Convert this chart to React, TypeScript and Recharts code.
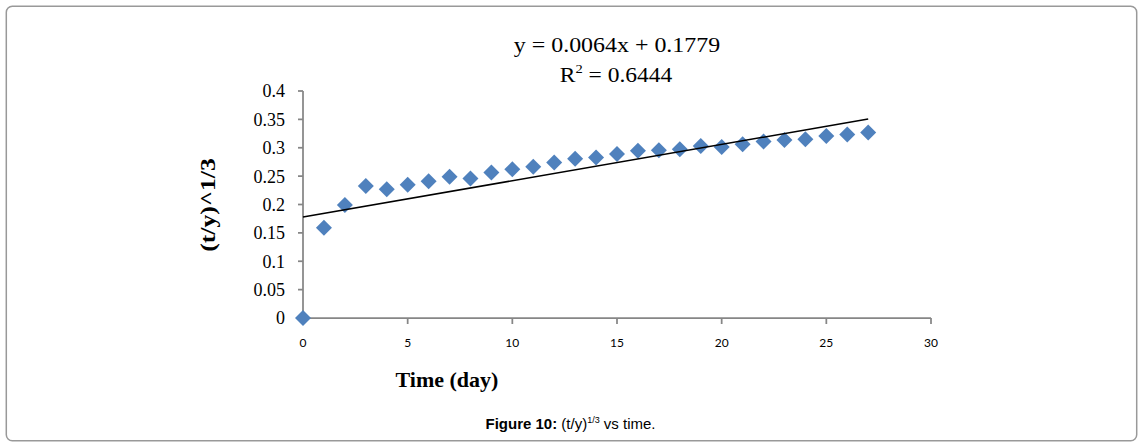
import React from 'react';
import { ScatterChart, Scatter, XAxis, YAxis } from 'recharts';

const days = [0, 1, 2, 3, 4, 5, 6, 7, 8, 9, 10, 11, 12, 13, 14, 15, 16, 17, 18, 19, 20, 21, 22, 23, 24, 25, 26, 27];
const values = [0, 0.159, 0.199, 0.2325, 0.227, 0.235, 0.241, 0.249, 0.246, 0.2565, 0.262, 0.2665, 0.274, 0.2805, 0.283, 0.289, 0.2945, 0.2955, 0.2975, 0.303, 0.3015, 0.306, 0.311, 0.3135, 0.315, 0.3205, 0.3235, 0.327];
const trendX = [0, 27];
const trendY = [0.1779, 0.3507];
const xTicks = [0, 5, 10, 15, 20, 25, 30];
const yTicks = [0, 0.05, 0.1, 0.15, 0.2, 0.25, 0.3, 0.35, 0.4];

const pointData = days.map((d, i) => ({ x: d, y: values[i] }));
const trendData = trendX.map((d, i) => ({ x: d, y: trendY[i] }));

const AXIS = '#868686';
const BLUE = '#4F81BD';

const Diamond = (props: any) => {
  const { cx, cy } = props;
  if (cx == null || cy == null) return <g />;
  const r = 8;
  return <path d={`M${cx},${cy - r} L${cx + r},${cy} L${cx},${cy + r} L${cx - r},${cy} Z`} fill={BLUE} />;
};

const NoShape = () => <g />;

const YTick = (props: any) => {
  const { x, y, payload } = props;
  return (
    <text x={x} y={y} dy="0.355em" textAnchor="end" fill="#000" fontFamily="Liberation Serif" fontSize={18}>
      {String(payload.value)}
    </text>
  );
};

const XTick = (props: any) => {
  const { x, y, payload } = props;
  return (
    <text x={x} y={y} dy="0.71em" textAnchor="middle" fill="#000" fontFamily="Lato" fontSize={12}>
      {String(payload.value)}
    </text>
  );
};

export default function App() {
  return (
    <div style={{ position: 'absolute', left: 0, top: 0, width: 1142, height: 448, background: '#fff' }}>
      <ScatterChart width={1142} height={448} margin={{ top: 91, right: 211, bottom: 100, left: 0 }}>
        <XAxis
          type="number"
          dataKey="x"
          domain={[0, 30]}
          ticks={xTicks}
          height={30}
          tickSize={6}
          tickMargin={14}
          axisLine={{ stroke: AXIS, strokeWidth: 1.75 }}
          tickLine={{ stroke: AXIS, strokeWidth: 1.75 }}
          tick={<XTick />}
        />
        <YAxis
          type="number"
          dataKey="y"
          domain={[0, 0.4]}
          ticks={yTicks}
          width={303}
          tickSize={5}
          tickMargin={13}
          axisLine={{ stroke: AXIS, strokeWidth: 1.75 }}
          tickLine={{ stroke: AXIS, strokeWidth: 1.75 }}
          tick={<YTick />}
        />
        <Scatter data={pointData} shape={Diamond} isAnimationActive={false} />
        <Scatter
          data={trendData}
          shape={NoShape}
          line={{ stroke: '#000', strokeWidth: 1.5 }}
          isAnimationActive={false}
        />
      </ScatterChart>
      <svg
        width={1142}
        height={448}
        style={{ position: 'absolute', left: 0, top: 0, pointerEvents: 'none' }}
      >
        <rect x={6.3} y={6.3} width={1130.4} height={434.4} rx={6} ry={6} fill="none" stroke="#999" strokeWidth={1.5} />
        <g transform="translate(617,52) scale(1.14,1)">
          <text textAnchor="middle" fontFamily="Liberation Serif" fontSize={21} fill="#000">
            y = 0.0064x + 0.1779
          </text>
        </g>
        <g transform="translate(616,82) scale(1.12,1)">
          <text textAnchor="middle" fontFamily="Liberation Serif" fontSize={21} fill="#000">
            R<tspan fontSize={13} dy={-9}>2</tspan>
            <tspan dy={9}> = 0.6444</tspan>
          </text>
        </g>
        <g transform="translate(447,387)">
          <text textAnchor="middle" fontFamily="Liberation Serif" fontWeight="bold" fontSize={22} fill="#000">
            Time (day)
          </text>
        </g>
        <g transform="translate(215,205) rotate(-90) scale(1.17,1)">
          <text textAnchor="middle" fontFamily="Liberation Serif" fontWeight="bold" fontSize={22} fill="#000">
            (t/y)^1/3
          </text>
        </g>
        <g transform="translate(570.5,429)">
          <text textAnchor="middle" fontFamily="Liberation Sans" fontSize={15} fill="#000">
            <tspan fontWeight="bold">Figure 10:</tspan>
            <tspan> (t/y)</tspan>
            <tspan fontSize={9} dy={-6}>1/3</tspan>
            <tspan dy={6}> vs time.</tspan>
          </text>
        </g>
      </svg>
    </div>
  );
}
